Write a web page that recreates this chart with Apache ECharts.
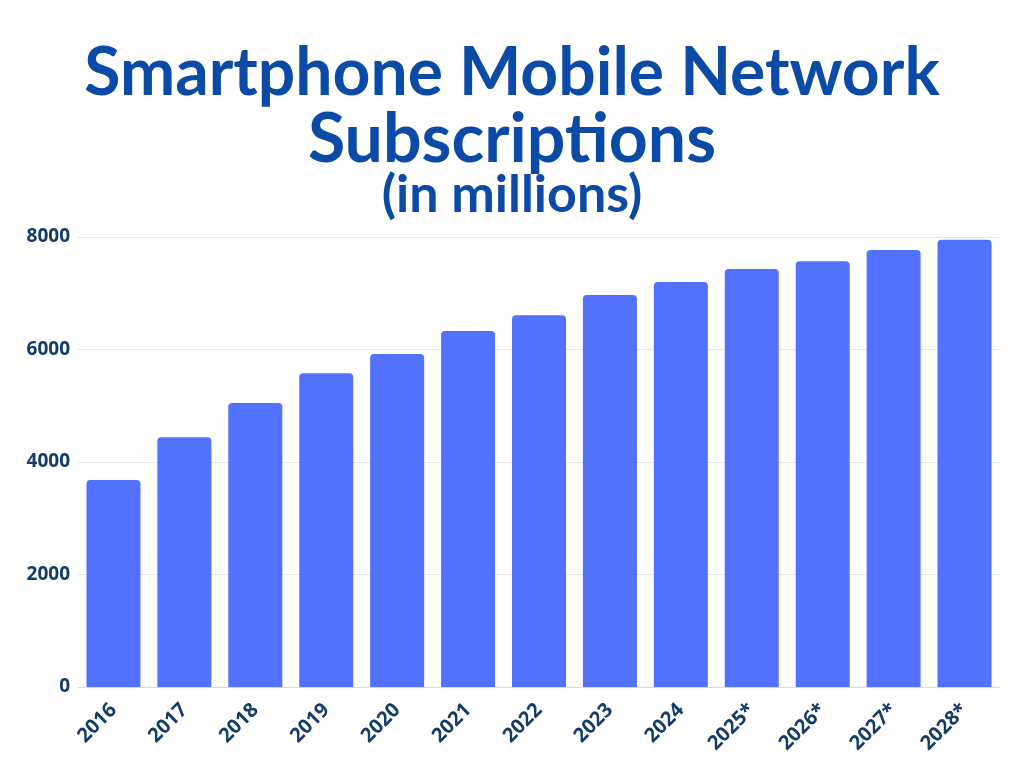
<!DOCTYPE html>
<html>
<head>
<meta charset="utf-8">
<script src="https://cdn.jsdelivr.net/npm/echarts@6/dist/echarts.min.js"></script>
<style>
  html, body { margin: 0; padding: 0; background: #fff; }
  #chart { width: 1024px; height: 768px; }
</style>
</head>
<body>
<div id="chart"></div>
<script>
// data
var years = ['2016', '2017', '2018', '2019', '2020', '2021', '2022',
    '2023', '2024', '2025*', '2026*', '2027*', '2028*'];
var subscriptions = [3680, 4440, 5050, 5580, 5920, 6330, 6610,
    6970, 7200, 7430, 7570, 7770, 7950];
var yTicks = [0, 2000, 4000, 6000, 8000];

var chart = echarts.init(document.getElementById('chart'));

var titleColor = '#0b4aa6';
var labelColor = '#133c6b';

var option = {
    animation: false,
    title: [
        {
            text: 'Smartphone Mobile Network',
            left: 'center',
            top: 36,
            textStyle: { fontFamily: 'Lato', fontWeight: 'bold', fontSize: 66, color: titleColor }
        },
        {
            text: 'Subscriptions',
            left: 'center',
            top: 101,
            textStyle: { fontFamily: 'Lato', fontWeight: 'bold', fontSize: 68, color: titleColor }
        },
        {
            text: '(in millions)',
            left: 'center',
            top: 164,
            textStyle: { fontFamily: 'Lato', fontWeight: 'bold', fontSize: 52, color: titleColor }
        }
    ],

    // Setup grid
    grid: {
        left: 78,
        right: 24,
        top: 237,
        bottom: 81,
        containLabel: false
    },

    // Horizontal axis
    xAxis: [{
        type: 'category',
        data: years,
        axisTick: { show: false },
        axisLine: { lineStyle: { color: '#d4d9e2', width: 1 } },
        axisLabel: {
            rotate: 45,
            interval: 0,
            margin: 20,
            fontFamily: 'Open Sans',
            fontWeight: 'bold',
            fontSize: 20,
            color: labelColor
        }
    }],

    // Vertical axis
    yAxis: [{
        type: 'value',
        min: yTicks[0],
        max: yTicks[yTicks.length - 1],
        interval: 2000,
        axisLine: { show: false },
        axisTick: { show: false },
        splitLine: { lineStyle: { color: '#e3e7ee', width: 1 } },
        axisLabel: {
            margin: 8,
            fontFamily: 'Open Sans',
            fontWeight: 'bold',
            fontSize: 19,
            color: labelColor,
            formatter: function (v) { return String(v); }
        }
    }],

    // Add series
    series: [{
        name: 'Subscriptions',
        type: 'bar',
        data: subscriptions,
        barWidth: 54,
        itemStyle: { color: '#5271ff', borderRadius: [4, 4, 0, 0] }
    }]
};

chart.setOption(option);
</script>
</body>
</html>
